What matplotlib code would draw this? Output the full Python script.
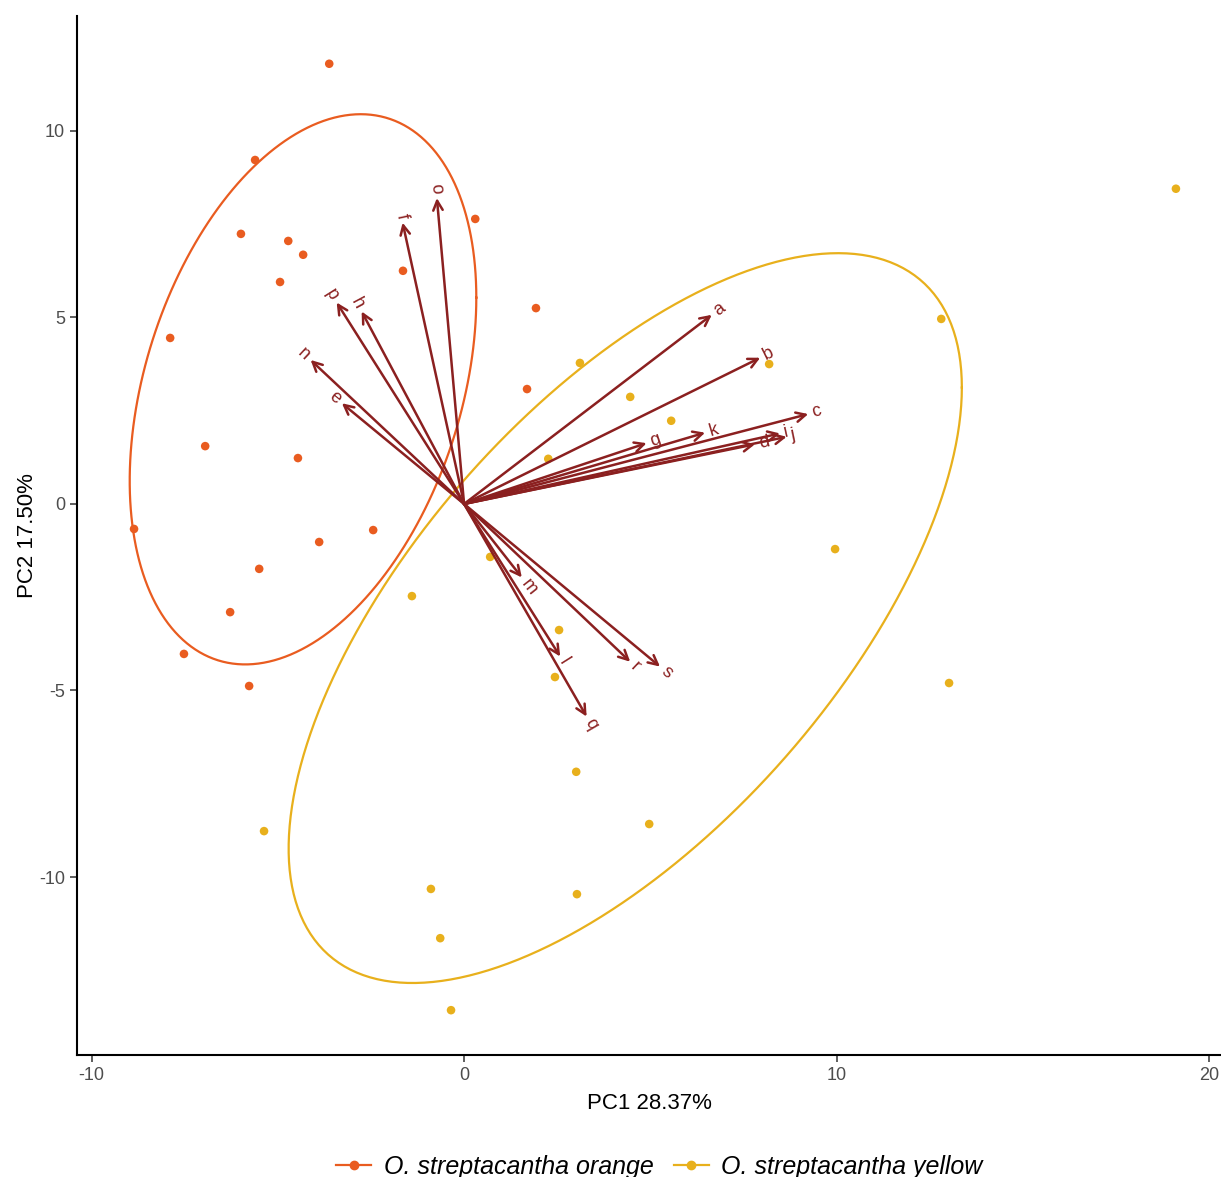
import numpy as np
import matplotlib
matplotlib.use("Agg")
from matplotlib import pyplot as plt
from matplotlib.lines import Line2D

plt.rcParams['font.family'] = ['Liberation Sans', 'DejaVu Sans']
plt.rcParams['axes.unicode_minus'] = False

# PCA scores
orange_x = [-3.62, -5.61, -5.99, -4.72, -4.32, -4.94, -1.64, 0.30, 1.93, -7.89,
            1.69, -6.95, -4.46, -8.86, -3.89, -2.44, -5.50, -6.28, -7.52, -5.77]
orange_y = [11.80, 9.22, 7.24, 7.05, 6.68, 5.95, 6.25, 7.64, 5.25, 4.45,
            3.08, 1.55, 1.23, -0.67, -1.02, -0.70, -1.74, -2.90, -4.02, -4.88]
yellow_x = [19.11, 12.81, 8.19, 3.11, 4.46, 5.56, 2.26, 9.96, 0.70, -1.40,
            2.55, 2.44, 13.02, 3.01, 4.97, -5.37, -0.89, 3.03, -0.64, -0.35]
yellow_y = [8.45, 4.96, 3.75, 3.78, 2.87, 2.23, 1.21, -1.21, -1.42, -2.47,
            -3.38, -4.64, -4.80, -7.18, -8.58, -8.77, -10.32, -10.46, -11.64, -13.57]

# loadings (arrow tips)
var_names = ['a', 'b', 'c', 'd', 'e', 'f', 'g', 'h', 'i', 'j',
             'k', 'l', 'm', 'n', 'o', 'p', 'q', 'r', 's']
var_x = [6.65, 7.95, 9.24, 7.81, -3.28, -1.65, 4.90, -2.75, 8.48, 8.66,
         6.47, 2.58, 1.55, -4.12, -0.73, -3.42, 3.29, 4.46, 5.26]
var_y = [5.07, 3.92, 2.41, 1.60, 2.70, 7.54, 1.63, 5.16, 1.89, 1.80,
         1.91, -4.09, -1.97, 3.86, 8.20, 5.40, -5.70, -4.23, -4.36]

groups = ['O. streptacantha orange', 'O. streptacantha yellow']
colors = ['#E95C20', '#E8B01C']
arrow_col = '#8B2020'


def ellipse(x, y, prob=0.70, n=200):
    pts = np.column_stack([x, y])
    mu = pts.mean(axis=0)
    sigma = np.cov(pts, rowvar=False)
    L = np.linalg.cholesky(sigma)
    ed = np.sqrt(-2 * np.log(1 - prob))
    t = np.linspace(0, 2 * np.pi, n)
    circle = np.column_stack([np.cos(t), np.sin(t)])
    return circle @ L.T * ed + mu


fig = plt.figure(figsize=[12.21, 11.77], dpi=100)
ax = fig.add_axes([0.0631, 0.1037, 0.9369, 0.8827])

data = [(orange_x, orange_y), (yellow_x, yellow_y)]
for (xs, ys), col in zip(data, colors):
    e = ellipse(xs, ys)
    ax.plot(e[:, 0], e[:, 1], color=col, lw=1.6, zorder=1)

for (xs, ys), col in zip(data, colors):
    ax.scatter(xs, ys, s=38, color=col, edgecolors='none', zorder=2)

for name, vx, vy in zip(var_names, var_x, var_y):
    ax.annotate('', xy=(vx, vy), xytext=(0, 0),
                arrowprops=dict(arrowstyle='->', color=arrow_col, lw=1.8,
                                mutation_scale=17, shrinkA=0, shrinkB=0),
                zorder=3)
    ang = np.degrees(np.arctan(vy / vx))
    norm = np.hypot(vx, vy)
    off = 3.0
    ax.annotate(name, xy=(vx, vy), xytext=(off * vx / norm, off * vy / norm),
                textcoords='offset points', rotation=ang, rotation_mode='anchor',
                ha='left' if vx > 0 else 'right', va='center',
                color=arrow_col, fontsize=13, zorder=4)

ax.set_xlim(-10.39, 20.32)
ax.set_ylim(-14.77, 13.08)
ax.set_xticks([-10, 0, 10, 20])
ax.set_yticks([-10, -5, 0, 5, 10])
ax.tick_params(labelsize=13, labelcolor='#4D4D4D', color='#333333', length=5, width=1.1)
for s in ['top', 'right']:
    ax.spines[s].set_visible(False)
for s in ['left', 'bottom']:
    ax.spines[s].set_linewidth(1.5)
ax.set_xlabel('PC1 28.37%', fontsize=16, labelpad=7)
ax.set_ylabel('PC2 17.50%', fontsize=16, labelpad=1)

handles = [Line2D([0], [0], color=c, marker='o', markersize=6, lw=1.6) for c in colors]
fig.legend(handles, groups, loc='lower center', bbox_to_anchor=(0.54, -0.021), ncol=2,
           frameon=False, prop={'size': 18, 'style': 'italic'},
           handlelength=1.4, handletextpad=0.5, columnspacing=0.8)

plt.savefig('out.png', dpi=100)
